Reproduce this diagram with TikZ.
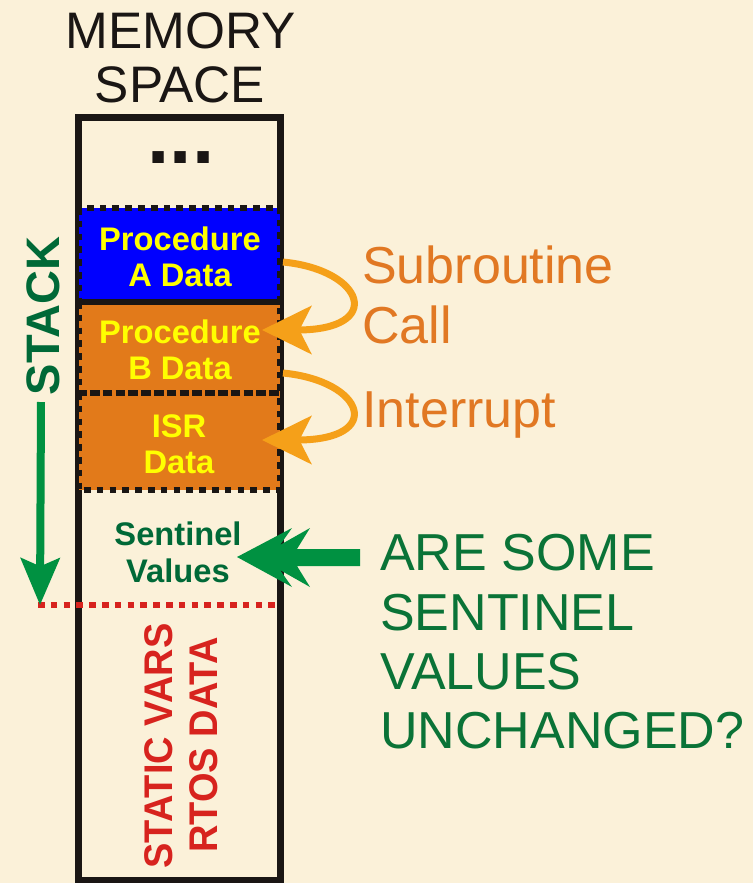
\documentclass[tikz,border=0pt]{standalone}
\usepackage{fontspec}
\setmainfont{Liberation Sans}
\usetikzlibrary{arrows.meta}
\definecolor{bgc}{RGB}{251,241,217}
\definecolor{boxline}{RGB}{26,22,20}
\definecolor{blueA}{RGB}{0,0,255}
\definecolor{orangeB}{RGB}{226,122,26}
\definecolor{yellowT}{RGB}{255,255,0}
\definecolor{arrowOr}{RGB}{245,160,25}
\definecolor{textOr}{RGB}{225,120,35}
\definecolor{greenArr}{RGB}{0,145,65}
\definecolor{greenTxt}{RGB}{10,115,55}
\definecolor{greenDark}{RGB}{0,105,55}
\definecolor{redT}{RGB}{215,35,30}
\tikzset{
  dashbox/.style={draw=boxline, line width=5.2pt, dash pattern=on 5pt off 4.6pt},
  ytext/.style={font=\fontsize{24.5}{28}\selectfont\bfseries, text=yellowT, inner sep=0pt, anchor=base},
  gtext/.style={font=\fontsize{24.5}{28}\selectfont\bfseries, text=greenDark, inner sep=0pt, anchor=base},
  otext/.style={font=\fontsize{39}{45}\selectfont, text=textOr, inner sep=0pt, anchor=base west},
  qtext/.style={font=\fontsize{39}{45}\selectfont, text=greenTxt, inner sep=0pt, anchor=base west},
  ttext/.style={font=\fontsize{38.5}{40}\selectfont, text=boxline, inner sep=0pt, anchor=base},
  rtext/.style={font=\fontsize{30}{34}\selectfont\bfseries, text=redT, inner sep=0pt, anchor=base, rotate=90},
  callarrow/.style={draw=arrowOr, line width=5.25pt, -{Stealth[length=37pt, width=36pt, inset=9pt, fill=arrowOr]}},
}
\begin{document}
\begin{tikzpicture}[x=0.75pt,y=-0.75pt]
\fill[bgc] (0,0) rectangle (753,883);
\useasboundingbox (0,0) rectangle (753,883);

% title
\node[ttext] (t1) at (181,48) {MEMORY};
\node[ttext] (t2) at (180,102) {SPACE};

% memory box
\draw[boxline, line width=5.25pt] (78.5,117.5) rectangle (280,880);
\node[font=\fontsize{60}{60}\selectfont\bfseries, text=boxline, inner sep=0pt, anchor=base] (dots) at (181,163) {...};

% stack frames
\fill[blueA] (78.5,208) rectangle (280,302);
\fill[orangeB] (78.5,302) rectangle (280,393);
\fill[orangeB] (78.5,393) rectangle (280,490);
\draw[dashbox] (78.5,208) rectangle (280,302);
\draw[dashbox] (78.5,302) rectangle (280,393);
\draw[dashbox] (78.5,393) rectangle (280,490);

\node[ytext] (pa1) at (180,250) {Procedure};
\node[ytext] (pa2) at (180,286) {A Data};
\node[ytext] (pb1) at (180,343) {Procedure};
\node[ytext] (pb2) at (180,379) {B Data};
\node[ytext] (is1) at (179,437) {ISR};
\node[ytext] (is2) at (179,473) {Data};

% sentinel
\node[gtext] (s1) at (178,545) {Sentinel};
\node[gtext] (s2) at (178,582) {Values};

% red dashed boundary
\coordinate (redL) at (38,605);
\coordinate (redR) at (280,605);
\draw[redT, line width=4.8pt, dash pattern=on 5pt off 4.6pt] (redL) -- (redR);

% static vars text
\node[rtext] (sv) at (172,746) {\scalebox{0.95}[1]{STATIC VARS}};
\node[rtext] (rd) at (217,745) {\scalebox{0.95}[1]{RTOS DATA}};

% stack label and arrow
\node[font=\fontsize{35.25}{40}\selectfont\bfseries, text=greenDark, inner sep=0pt, anchor=base, rotate=90] (stk) at (60,316) {STACK};
\coordinate (stackTop) at (41,402);
\coordinate (stackEnd) at (40,605);
\draw[greenArr, line width=6pt, -{Stealth[length=35pt, width=29pt, inset=6pt]}] (stackTop) -- (stackEnd);

% call arrows
\coordinate (subS) at (283,262);
\coordinate (subE) at (262,330);
\draw[callarrow] (subS) .. controls (365,270) and (385,330) .. (subE);
\coordinate (intS) at (283,373);
\coordinate (intE) at (262,440);
\draw[callarrow] (intS) .. controls (365,381) and (385,440) .. (intE);

% orange labels
\node[otext] (sub1) at (362,283) {Subroutine};
\node[otext] (sub2) at (362,343) {Call};
\node[otext] (intr) at (362,427) {Interrupt};

% big green arrow
\coordinate (senTip) at (237,557);
\fill[greenArr] (senTip) -- (292,528) -- (280,545) -- (310,528) -- (297,549) -- (360,549)
  -- (360,566) -- (297,566) -- (310,587) -- (280,570) -- (292,587) -- cycle;

% question
\node[qtext] (q1) at (380,570) {ARE SOME};
\node[qtext] (q2) at (380,630) {SENTINEL};
\node[qtext] (q3) at (380,689) {VALUES};
\node[qtext] (q4) at (380,748) {UNCHANGED?};
\end{tikzpicture}
\end{document}
